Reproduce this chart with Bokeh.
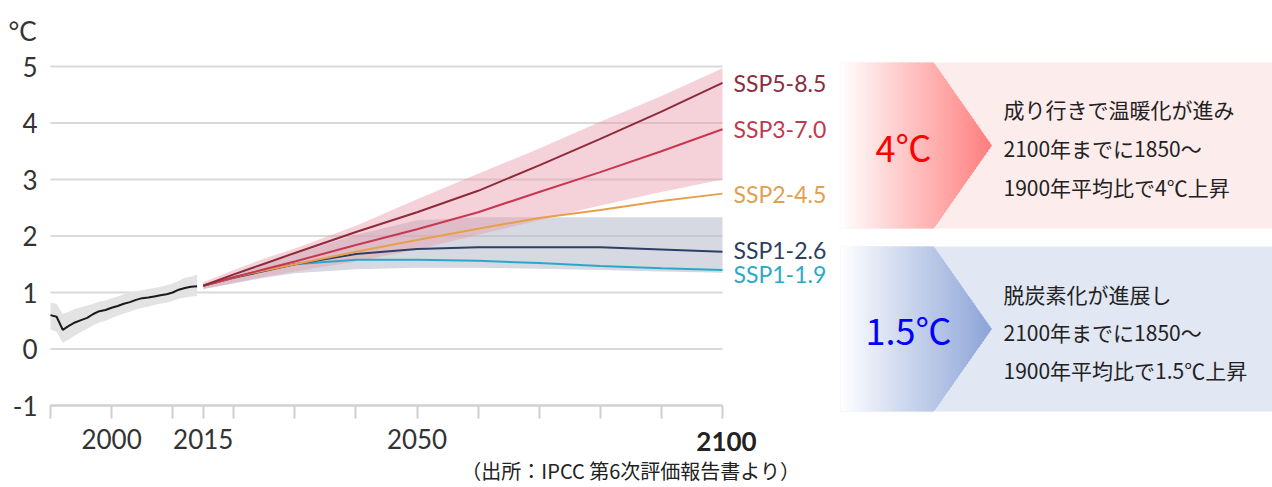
from bokeh.plotting import figure
from bokeh.models import ColumnDataSource, FixedTicker, Range1d, LinearAxis
from bokeh.layouts import row
from bokeh.embed import file_html
from bokeh.resources import INLINE
from bokeh.core.properties import value

# ---------------- data ----------------
hist_years = list(range(1990, 2015))
hist_mean = [0.60, 0.57, 0.34, 0.41, 0.47, 0.51, 0.55, 0.62, 0.67, 0.69, 0.73, 0.76, 0.80,
             0.83, 0.87, 0.90, 0.91, 0.93, 0.95, 0.97, 1.00, 1.05, 1.08, 1.10, 1.11]
hist_hi = [0.82, 0.80, 0.62, 0.66, 0.71, 0.74, 0.77, 0.80, 0.84, 0.86, 0.90, 0.93, 0.97,
           1.00, 1.02, 1.04, 1.06, 1.08, 1.10, 1.13, 1.16, 1.21, 1.26, 1.28, 1.32]
hist_lo = [0.35, 0.30, 0.11, 0.17, 0.24, 0.30, 0.36, 0.42, 0.47, 0.50, 0.55, 0.59, 0.63,
           0.66, 0.70, 0.73, 0.75, 0.78, 0.80, 0.82, 0.85, 0.89, 0.91, 0.93, 0.94]

proj_years = [2015, 2020, 2025, 2030, 2040, 2050, 2060, 2070, 2080, 2090, 2100]
ssp585 = [1.12, 1.32, 1.51, 1.70, 2.07, 2.42, 2.80, 3.25, 3.72, 4.20, 4.71]
ssp370 = [1.12, 1.27, 1.41, 1.55, 1.84, 2.12, 2.42, 2.78, 3.13, 3.50, 3.89]
ssp245 = [1.12, 1.27, 1.39, 1.50, 1.72, 1.93, 2.13, 2.32, 2.46, 2.62, 2.75]
ssp126 = [1.12, 1.26, 1.38, 1.50, 1.68, 1.77, 1.80, 1.80, 1.80, 1.76, 1.72]
ssp119 = [1.12, 1.27, 1.40, 1.50, 1.58, 1.58, 1.56, 1.52, 1.47, 1.43, 1.40]

high_band_hi = [1.18, 1.40, 1.60, 1.78, 2.18, 2.65, 3.10, 3.55, 4.02, 4.48, 4.97]
high_band_lo = [1.06, 1.17, 1.28, 1.37, 1.55, 1.76, 2.02, 2.28, 2.54, 2.78, 3.00]
low_band_hi = [1.15, 1.32, 1.50, 1.68, 2.02, 2.28, 2.33, 2.33, 2.33, 2.33, 2.33]
low_band_lo = [1.06, 1.16, 1.26, 1.34, 1.41, 1.44, 1.44, 1.42, 1.40, 1.37, 1.35]

scenario_names = ["SSP5-8.5", "SSP3-7.0", "SSP2-4.5", "SSP1-2.6", "SSP1-1.9"]
scenario_series = [ssp585, ssp370, ssp245, ssp126, ssp119]

x_ticks = [1990, 2000, 2010, 2015, 2020, 2030, 2040, 2050, 2060, 2070, 2080, 2090, 2100]
x_tick_labels = {2000: "2000", 2015: "2015", 2050: "2050"}
x_bold_label = "2100"
y_ticks = [-1, 0, 1, 2, 3, 4, 5]
y_unit = "°C"
source_note = "（出所：IPCC 第6次評価報告書より）"

panel_big = ["4℃", "1.5℃"]
panel_lines = [
    ["成り行きで温暖化が進み", "2100年までに1850～", "1900年平均比で4℃上昇"],
    ["脱炭素化が進展し", "2100年までに1850～", "1900年平均比で1.5℃上昇"],
]

# ---------------- styles / layout ----------------
line_colors = ["#8E2B3B", "#C9374F", "#E6A04C", "#2E3F66", "#2AA8C9"]
label_colors = ["#8B2D3D", "#C0394E", "#E0A050", "#2C3E5E", "#2BA9C9"]
label_nudge = [0, 0, 0, -2, 4]          # screen px, down positive
TXT = "#333333"
FONT = "Lato"
JP = "Noto Sans CJK JP"

W1, W2, H = 838, 434, 487
PX_X0, PX_X1 = 50, 722      # screen x of first / last x tick
PX_YTOP, PX_YBOT = 66, 405  # screen y of top / bottom y tick

xs = (x_ticks[-1] - x_ticks[0]) / (PX_X1 - PX_X0)
ys = (y_ticks[-1] - y_ticks[0]) / (PX_YBOT - PX_YTOP)
x_range = Range1d(x_ticks[0] - PX_X0 * xs, x_ticks[0] + (W1 - PX_X0) * xs)
y_range = Range1d(y_ticks[0] - (H - PX_YBOT) * ys, y_ticks[-1] + PX_YTOP * ys)

# ---------------- left chart ----------------
p = figure(width=W1, height=H, x_range=x_range, y_range=y_range,
           x_axis_type=None, y_axis_type=None,
           output_backend="svg", toolbar_location=None, min_border=0)
p.outline_line_color = None
p.grid.visible = False
p.background_fill_color = "white"
p.border_fill_color = "white"

# grid lines between first and last year
p.segment(x0=[x_ticks[0]] * len(y_ticks), x1=[x_ticks[-1]] * len(y_ticks),
          y0=y_ticks, y1=y_ticks, line_color="#d9d9d9", line_width=2)

xaxis = LinearAxis(fixed_location=y_ticks[0], bounds=(x_ticks[0], x_ticks[-1]))
xaxis.ticker = FixedTicker(ticks=x_ticks)
xaxis.major_label_overrides = {t: x_tick_labels.get(t, "") for t in x_ticks}
xaxis.axis_line_color = "#cfcfcf"
xaxis.axis_line_width = 2
xaxis.major_tick_line_color = "#cfcfcf"
xaxis.major_tick_line_width = 2
xaxis.major_tick_out = 13
xaxis.major_tick_in = 0
xaxis.minor_tick_line_color = None
xaxis.major_label_standoff = 10
xaxis.major_label_text_font = FONT
xaxis.major_label_text_font_size = "26px"
xaxis.major_label_text_color = TXT
p.add_layout(xaxis, "below")

yaxis = LinearAxis(fixed_location=x_ticks[0])
yaxis.ticker = FixedTicker(ticks=y_ticks)
yaxis.major_label_overrides = {t: str(t) for t in y_ticks}
yaxis.axis_line_color = None
yaxis.major_tick_line_color = None
yaxis.minor_tick_line_color = None
yaxis.major_tick_out = 0
yaxis.major_tick_in = 0
yaxis.major_label_standoff = 13
yaxis.major_label_text_font = FONT
yaxis.major_label_text_font_size = "26px"
yaxis.major_label_text_color = TXT
p.add_layout(yaxis, "left")

# bands
p.varea(x=hist_years, y1=hist_lo, y2=hist_hi, fill_color="#e3e3e3")
p.varea(x=proj_years, y1=low_band_lo, y2=low_band_hi, fill_color="#b4bac8", fill_alpha=0.55)
p.varea(x=proj_years, y1=high_band_lo, y2=high_band_hi, fill_color="#e99cab", fill_alpha=0.45)

# lines
p.line(hist_years, hist_mean, line_color="#1a1a1a", line_width=2)
for ser, col in reversed(list(zip(scenario_series, line_colors))):
    p.line(proj_years, ser, line_color=col, line_width=2)

lab_src = ColumnDataSource(dict(
    x=[proj_years[-1]] * len(scenario_names),
    y=[s[-1] for s in scenario_series],
    text=scenario_names,
    color=label_colors,
    dy=label_nudge,
))
p.text(x="x", y="y", text="text", text_color="color", source=lab_src,
       x_offset=11, y_offset="dy", text_baseline="middle", text_align="left",
       text_font=value(FONT), text_font_size="23px")

p.text(x=[x_ticks[-1]], y=[y_ticks[0]], text=[x_bold_label], x_offset=4, y_offset=36,
       text_align="center", text_baseline="middle", text_font=value(FONT),
       text_font_size="26px", text_font_style="bold", text_color="#222222")
p.text(x=[x_ticks[0]], y=[y_ticks[-1]], text=[y_unit], x_offset=-42, y_offset=-36,
       text_align="left", text_baseline="middle", text_font=value(FONT),
       text_font_size="26px", text_color=TXT)
p.text(x=[2085], y=[y_ticks[0]], text=[source_note], y_offset=65,
       text_align="center", text_baseline="middle", text_font=value(JP),
       text_font_size="20px", text_color="#222222")

# ---------------- right panels ----------------
q = figure(width=W2, height=H, x_range=Range1d(0, W2), y_range=Range1d(H, 0),
           x_axis_type=None, y_axis_type=None, output_backend="svg",
           toolbar_location=None, min_border=0)
q.outline_line_color = None
q.grid.visible = False
q.background_fill_color = "white"
q.border_fill_color = "white"

panels = [
    dict(top=62, bottom=228, bg="#fdecec", c1=(255, 255, 255), c2=(255, 126, 126),
         big_color="#ff0000", big_x=65, lines_y=[108, 147, 186]),
    dict(top=246, bottom=411, bg="#e1e7f3", c1=(255, 255, 255), c2=(140, 164, 216),
         big_color="#0000ff", big_x=70, lines_y=[293, 331, 369]),
]
X0, XS, XT = 2, 95, 153
N = 75
for i, pn in enumerate(panels):
    q.quad(left=X0, right=W2, top=pn["top"], bottom=pn["bottom"], fill_color=pn["bg"], line_color=None)
    mid = (pn["top"] + pn["bottom"]) / 2.0
    half = (pn["bottom"] - pn["top"]) / 2.0

    def hh(x):
        if x <= XS:
            return half
        return half * max(0.0, (XT - x) / (XT - XS))

    pxs, pys, cols = [], [], []
    step = (XT - X0) / N
    for k in range(N):
        xa = X0 + k * step
        xb = xa + step
        t = (k + 0.5) / N
        r = int(pn["c1"][0] + (pn["c2"][0] - pn["c1"][0]) * t)
        g = int(pn["c1"][1] + (pn["c2"][1] - pn["c1"][1]) * t)
        b = int(pn["c1"][2] + (pn["c2"][2] - pn["c1"][2]) * t)
        pxs.append([xa, xb + 0.6, xb + 0.6, xa])
        pys.append([mid - hh(xa), mid - hh(xb), mid + hh(xb), mid + hh(xa)])
        cols.append("#%02x%02x%02x" % (r, g, b))
    q.patches(pxs, pys, fill_color=cols, line_color=None)

    q.text(x=[pn["big_x"]], y=[mid], text=[panel_big[i]], text_align="center",
           text_baseline="middle", text_font=value(JP), text_font_size="36px",
           text_color=pn["big_color"])
    q.text(x=[165] * 3, y=pn["lines_y"], text=panel_lines[i], text_align="left",
           text_baseline="middle", text_font=value(JP), text_font_size="21px",
           text_color="#222222")

layout = row(p, q)
open("out.html", "w").write(file_html(layout, INLINE))
